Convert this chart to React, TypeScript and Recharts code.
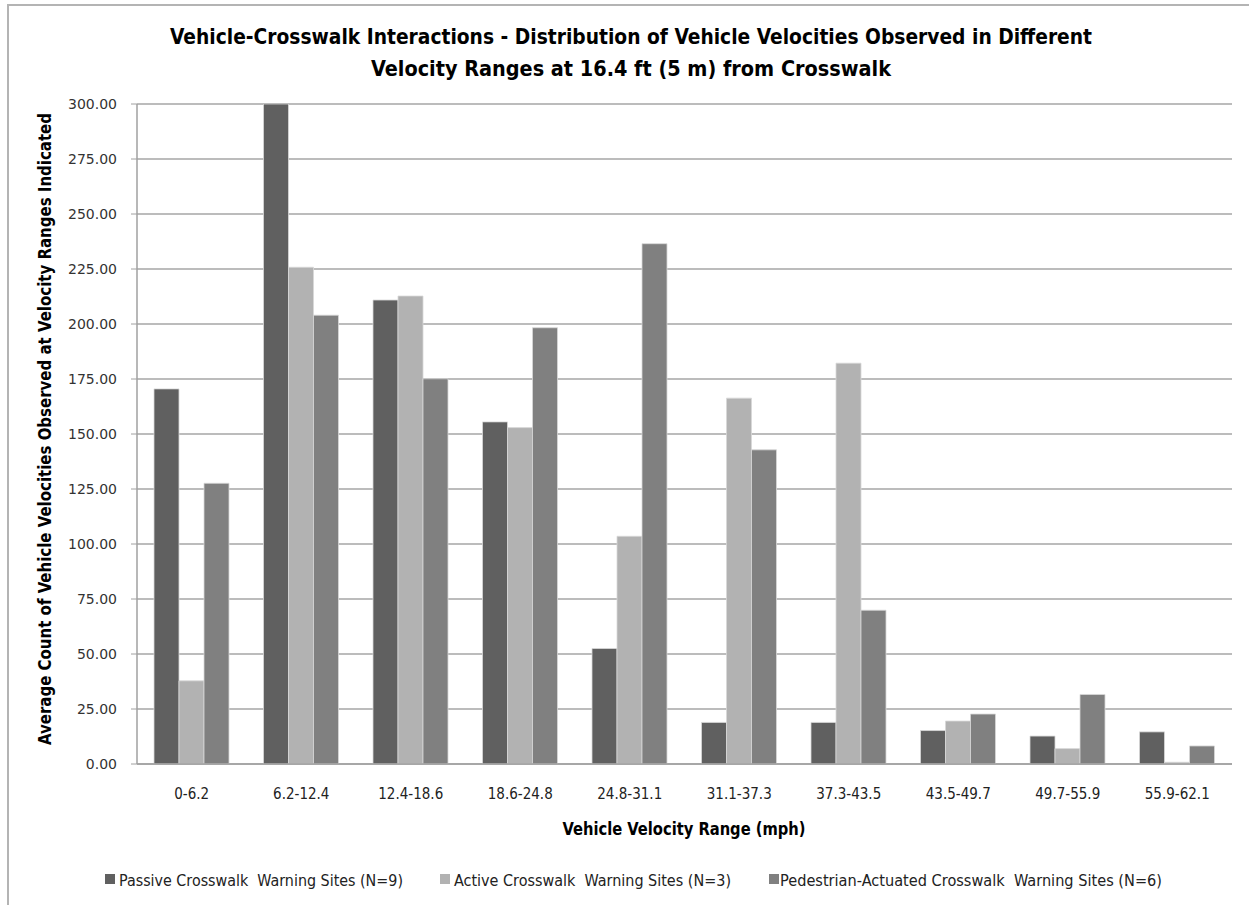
import React from 'react';
import { BarChart, Bar, XAxis, YAxis, CartesianGrid } from 'recharts';

const categories = ['0-6.2', '6.2-12.4', '12.4-18.6', '18.6-24.8', '24.8-31.1', '31.1-37.3', '37.3-43.5', '43.5-49.7', '49.7-55.9', '55.9-62.1'];
const passive = [170.5, 300, 210.9, 155.5, 52.5, 18.9, 18.9, 15.2, 12.7, 14.6];
const active = [37.8, 225.8, 212.7, 152.9, 103.5, 166.3, 182.2, 19.5, 7.0, 0.8];
const pedestrian = [127.6, 204.0, 175.1, 198.3, 236.5, 142.8, 69.9, 22.7, 31.6, 8.2];
const yTicks = [0, 25, 50, 75, 100, 125, 150, 175, 200, 225, 250, 275, 300];
const seriesNames = [
  'Passive Crosswalk  Warning Sites (N=9)',
  'Active Crosswalk  Warning Sites (N=3)',
  'Pedestrian-Actuated Crosswalk  Warning Sites (N=6)',
];
const seriesColors = ['#606060', '#b2b2b2', '#808080'];
const titleLines = [
  'Vehicle-Crosswalk Interactions - Distribution of Vehicle Velocities Observed in Different',
  'Velocity Ranges at 16.4 ft (5 m) from Crosswalk',
];
const xTitle = 'Vehicle Velocity Range (mph)';
const yTitle = 'Average Count of Vehicle Velocities Observed at Velocity Ranges Indicated';

const data = categories.map((c, i) => ({
  cat: c,
  passive: passive[i],
  active: active[i],
  pedestrian: pedestrian[i],
}));

const NARROW = "'Liberation Sans Narrow', 'DejaVu Sans Condensed', 'Roboto Condensed', sans-serif";

const legendLayout = [
  { sq: 105, tx: 119, w: 284 },
  { sq: 440, tx: 454, w: 277 },
  { sq: 769, tx: 780, w: 382 },
];

export default function App() {
  return (
    <div style={{ position: 'absolute', left: 0, top: 0, width: 1249, height: 905, background: '#fff', overflow: 'hidden' }}>
      <div style={{ position: 'absolute', left: 7, top: 4, width: 1242, height: 901, borderTop: '2px solid #b4b4b4', borderLeft: '2px solid #b4b4b4', boxSizing: 'border-box' }} />
      <div style={{ position: 'absolute', left: 0, top: 0 }}>
        <BarChart
          width={1249}
          height={905}
          data={data}
          margin={{ top: 104, right: 17, bottom: 111, left: 0 }}
          barGap={0}
          barSize={25}
        >
          <CartesianGrid vertical={false} stroke="#a6a6a6" strokeWidth={1.5} />
          <XAxis
            dataKey="cat"
            height={30}
            tickLine={false}
            axisLine={{ stroke: '#a0a0a0', strokeWidth: 1.5 }}
            tickMargin={18}
            tick={{ fontFamily: NARROW, fontSize: 15, fill: '#222' }}
            interval={0}
          />
          <YAxis
            width={137}
            domain={[0, 300]}
            ticks={yTicks}
            allowDataOverflow
            tickFormatter={(v: number) => v.toFixed(2)}
            tickSize={6}
            tickMargin={14}
            tickLine={{ stroke: '#a0a0a0' }}
            axisLine={{ stroke: '#a0a0a0', strokeWidth: 1.5 }}
            tick={{ fontFamily: "'DejaVu Sans', sans-serif", fontSize: 14, fill: '#333' }}
          />
          <Bar dataKey="passive" fill={seriesColors[0]} stroke="#d8d8d8" strokeWidth={0.8} isAnimationActive={false} />
          <Bar dataKey="active" fill={seriesColors[1]} stroke="#d8d8d8" strokeWidth={0.8} isAnimationActive={false} />
          <Bar dataKey="pedestrian" fill={seriesColors[2]} stroke="#d8d8d8" strokeWidth={0.8} isAnimationActive={false} />
        </BarChart>
      </div>
      <svg width={1249} height={905} style={{ position: 'absolute', left: 0, top: 0, pointerEvents: 'none' }}>
        <text x={631} y={44} textAnchor="middle" fontFamily={NARROW} fontWeight="bold" fontSize={21} fill="#000" textLength={922} lengthAdjust="spacingAndGlyphs">{titleLines[0]}</text>
        <text x={631} y={76} textAnchor="middle" fontFamily={NARROW} fontWeight="bold" fontSize={21} fill="#000" textLength={520} lengthAdjust="spacingAndGlyphs">{titleLines[1]}</text>
        <text x={684} y={835} textAnchor="middle" fontFamily={NARROW} fontWeight="bold" fontSize={17} fill="#000" textLength={243} lengthAdjust="spacingAndGlyphs">{xTitle}</text>
        <text x={51} y={429} textAnchor="middle" fontFamily={NARROW} fontWeight="bold" fontSize={17} fill="#000" transform="rotate(-90 51 429)" textLength={632} lengthAdjust="spacingAndGlyphs">{yTitle}</text>
        {seriesNames.map((n, i) => (
          <g key={n}>
            <rect x={legendLayout[i].sq} y={874} width={10} height={10} fill={seriesColors[i]} />
            <text x={legendLayout[i].tx} y={886} fontFamily={NARROW} fontSize={15} fill="#222" textLength={legendLayout[i].w} lengthAdjust="spacingAndGlyphs" style={{ whiteSpace: 'pre' }}>{n}</text>
          </g>
        ))}
      </svg>
    </div>
  );
}
